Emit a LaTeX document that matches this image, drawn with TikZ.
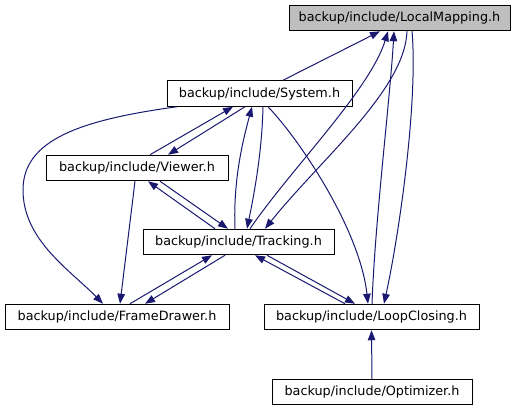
\documentclass[tikz,border=0pt]{standalone}
\usepackage{fontspec}
\setmainfont{DejaVu Sans}
\usetikzlibrary{arrows.meta}
\definecolor{edgeblue}{HTML}{191970}
\definecolor{grey75}{HTML}{BFBFBF}
\begin{document}
\begin{tikzpicture}[x=1pt,y=-1pt,
  filebox/.style={draw=black,line width=1pt,fill=white,inner sep=0pt,minimum height=25.5pt,
    font=\fontsize{12.8}{15}\selectfont,anchor=center},
  dep/.style={draw=edgeblue,line width=1pt,-{Triangle[length=10pt,width=7.5pt]}}]
\useasboundingbox (0,0) rectangle (521,411);
\node[filebox,fill=grey75,minimum width=221pt] (lm) at (399.5,18) {backup/include/LocalMapping.h};
\node[filebox,minimum width=185pt] (sys) at (259.5,93.5) {backup/include/System.h};
\node[filebox,minimum width=182pt] (vw) at (137,168) {backup/include/Viewer.h};
\node[filebox,minimum width=191pt] (trk) at (238.5,242) {backup/include/Tracking.h};
\node[filebox,minimum width=224pt] (fd) at (117,317) {backup/include/FrameDrawer.h};
\node[filebox,minimum width=215pt] (lc) at (371.5,317) {backup/include/LoopClosing.h};
\node[filebox,minimum width=200pt] (opt) at (372,392) {backup/include/Optimizer.h};
\coordinate (fdbend) at (23,190);
% to LocalMapping
\draw[dep] ([xshift=23.5]sys.north) -- ([xshift=-19.5]lm.south);
\draw[dep] ([xshift=11.5]trk.north) .. controls (290,170) and (370,90) .. ([xshift=-11.5]lm.south);
\draw[dep] ([xshift=0.5]lc.north) .. controls (375,220) and (390,100) .. ([xshift=-5.5]lm.south);
% from LocalMapping
\draw[dep] ([xshift=7.5]lm.south) .. controls (405,90) and (320,160) .. ([xshift=26.5]trk.north);
\draw[dep] ([xshift=12.5]lm.south) .. controls (418,100) and (400,230) .. ([xshift=12.5]lc.north);
% System / Viewer
\draw[dep] ([xshift=13]vw.north) -- ([xshift=-26.5]sys.south);
\draw[dep] ([xshift=-14.5]sys.south) -- ([xshift=31]vw.north);
% System / Tracking
\draw[dep] ([xshift=-3.5]trk.north) .. controls (233,180) and (243,140) .. ([xshift=-7.5]sys.south);
\draw[dep] ([xshift=3.5]sys.south) .. controls (262,150) and (255,190) .. ([xshift=8.5]trk.north);
% System -> FrameDrawer
\draw[dep] ([xshift=-82.5]sys.south) .. controls (80,120) and (23,140) .. (fdbend) .. controls (23,240) and (70,270) .. ([xshift=-14]fd.north);
% System -> LoopClosing
\draw[dep] ([xshift=8.5]sys.south) .. controls (300,140) and (360,230) .. ([xshift=-3.5]lc.north);
% Viewer / Tracking
\draw[dep] ([xshift=23]vw.south) -- ([xshift=-10.5]trk.north);
\draw[dep] ([xshift=-23.5]trk.north) -- ([xshift=11]vw.south);
% Viewer -> FrameDrawer
\draw[dep] ([xshift=-2]vw.south) -- ([xshift=3]fd.north);
% FrameDrawer / Tracking
\draw[dep] ([xshift=13]fd.north) -- ([xshift=-26.5]trk.south);
\draw[dep] ([xshift=-13.5]trk.south) -- ([xshift=28]fd.north);
% LoopClosing / Tracking
\draw[dep] ([xshift=-26.5]lc.north) -- ([xshift=16.5]trk.south);
\draw[dep] ([xshift=28.5]trk.south) -- ([xshift=-16.5]lc.north);
% Optimizer -> LoopClosing
\draw[dep] (opt.north) -- (lc.south);
\end{tikzpicture}
\end{document}
